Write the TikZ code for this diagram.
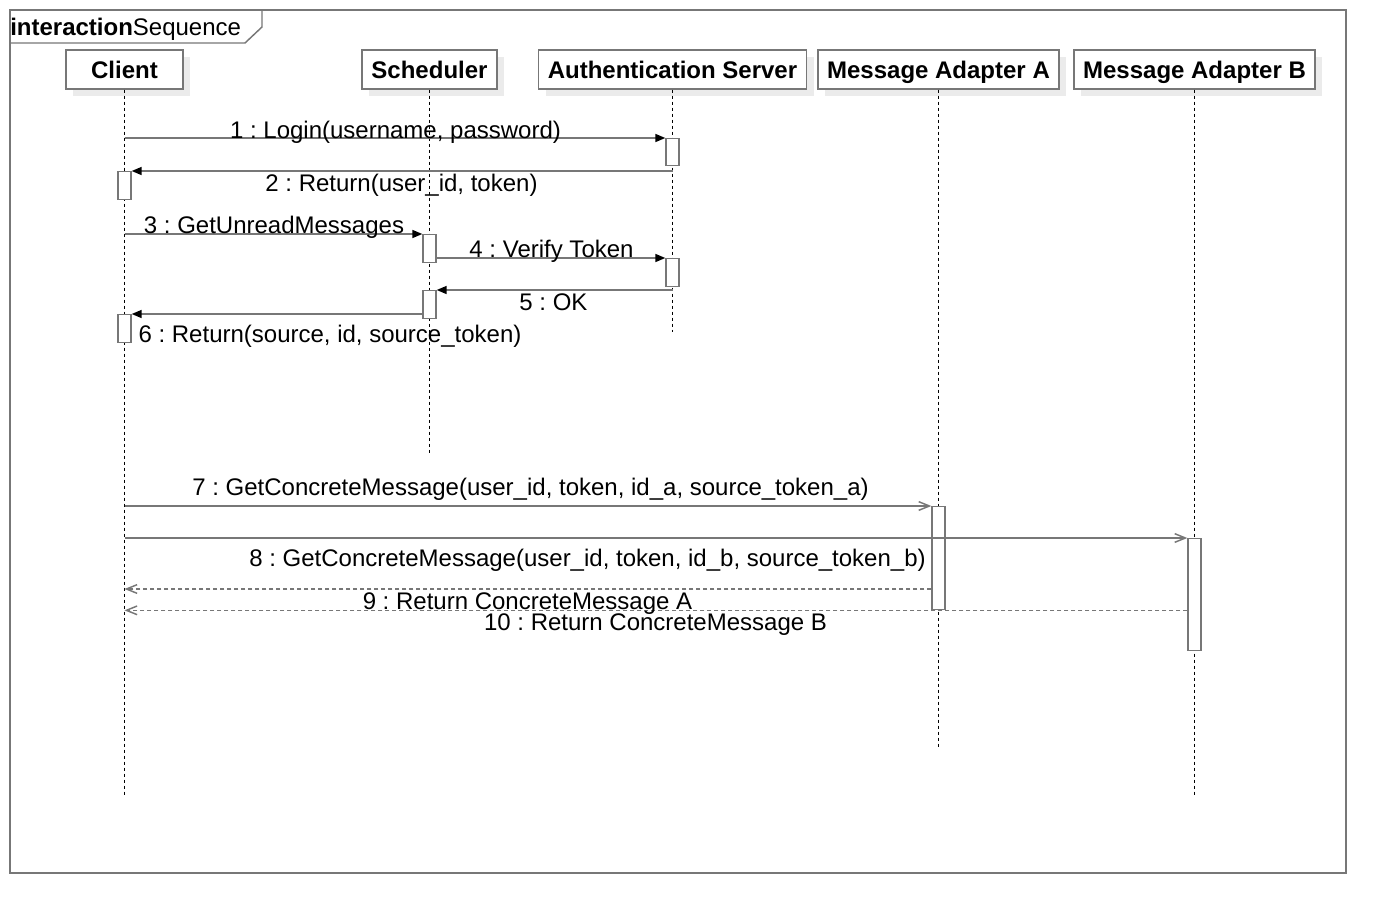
\documentclass[tikz,border=0pt]{standalone}
\usepackage{fontspec}
\setmainfont{Liberation Sans}
\usetikzlibrary{arrows.meta,shadows}
\definecolor{lg}{HTML}{777777}
\frenchspacing
\begin{document}
\begin{tikzpicture}[x=0.75pt,y=-0.75pt,
  every node/.style={font=\fontsize{18}{21}\selectfont},
  head/.style={draw=lg, line width=1pt, fill=white, minimum height=39*0.75pt, inner sep=0pt,
    text height=16pt, text depth=3.2pt,
    font=\fontsize{18}{21}\selectfont\bfseries,
    drop shadow={shadow xshift=5.25pt, shadow yshift=-5.25pt, fill=black!8, opacity=1}},
  life/.style={black, line width=0.7pt, dash pattern=on 2.25pt off 2.25pt},
  act/.style={draw=lg, line width=1pt, fill=white, minimum width=13*0.75pt, inner sep=0pt, anchor=north},
  sync/.style={draw=lg, line width=1.1pt, -{Triangle[length=7.5pt,width=6pt,color=black]}},
  async/.style={draw=lg, line width=1.1pt, -{Straight Barb[length=8pt,width=6.5pt]}},
  reply/.style={draw=lg, line width=1.1pt, dash pattern=on 3pt off 2.25pt, -{Straight Barb[length=8pt,width=6.5pt]}},
  lbl/.style={anchor=base, inner sep=0pt}
]
\useasboundingbox (0,0) rectangle (1386,914);
% frame
\draw[lg, line width=1.1pt] (10,10) rectangle (1346,873);
\draw[lg, line width=1.1pt] (10,43) -- (245,43) -- (262,27) -- (262,10);
\node[anchor=base west, inner sep=0pt] (title) at (10,35) {\textbf{interaction}Sequence};

% heads
\node[head, minimum width=117*0.75pt] (client) at (124.5,69.5) {Client};
\node[head, minimum width=135*0.75pt] (sched) at (429.5,69.5) {Scheduler};
\node[head, minimum width=268*0.75pt] (auth) at (672.5,69.5) {Authentication Server};
\node[head, minimum width=241*0.75pt] (maa) at (938.5,69.5) {Message Adapter A};
\node[head, minimum width=241*0.75pt] (mab) at (1194.5,69.5) {Message Adapter B};

% lifeline ends
\coordinate (clientEnd) at (124.5,795);
\coordinate (schedEnd) at (429.5,453);
\coordinate (authEnd) at (672.5,332);
\coordinate (maaEnd) at (938.5,747);
\coordinate (mabEnd) at (1194.5,795);
\draw[life] (client.south) -- (clientEnd);
\draw[life] (sched.south) -- (schedEnd);
\draw[life] (auth.south) -- (authEnd);
\draw[life] (maa.south) -- (maaEnd);
\draw[life] (mab.south) -- (mabEnd);

% activations
\node[act, minimum height=27*0.75pt] (a1) at (672.5,138) {};
\node[act, minimum height=28*0.75pt] (a2) at (124.5,171) {};
\node[act, minimum height=28*0.75pt] (a3) at (429.5,234) {};
\node[act, minimum height=28*0.75pt] (a4) at (672.5,258) {};
\node[act, minimum height=28*0.75pt] (a5) at (429.5,290) {};
\node[act, minimum height=28*0.75pt] (a6) at (124.5,314) {};
\node[act, minimum height=103*0.75pt] (a7) at (938.5,506) {};
\node[act, minimum height=112*0.75pt] (a8) at (1194.5,538) {};

% messages
\coordinate (r9) at (0,589);
\draw[sync] (client.south |- a1.north) -- (a1.north west);
\draw[sync] (auth.south |- a2.north) -- (a2.north east);
\draw[sync] (client.south |- a3.north) -- (a3.north west);
\draw[sync] (a3.east |- a4.north) -- (a4.north west);
\draw[sync] (auth.south |- a5.north) -- (a5.north east);
\draw[sync] (a5.west |- a6.north) -- (a6.north east);
\draw[async] (client.south |- a7.north) -- (a7.north west);
\draw[async] (client.south |- a8.north) -- (a8.north west);
\draw[reply] (a7.west |- r9) -- (client.south |- r9);
\draw[reply] (a8.west |- a7.south) -- (client.south |- a7.south);

% labels
\node[lbl] (l1) at (395.5,138) {1 : Login(username, password)};
\node[lbl] (l2) at (401.5,191) {2 : Return(user\_id, token)};
\node[lbl] (l3) at (274,233) {3 : GetUnreadMessages};
\node[lbl] (l4) at (551.5,257) {4 : Verify Token};
\node[lbl] (l5) at (553.5,310) {5 : OK};
\node[lbl] (l6) at (330,342) {6 : Return(source, id, source\_token)};
\node[lbl] (l7) at (530.5,495) {7 : GetConcreteMessage(user\_id, token, id\_a, source\_token\_a)};
\node[lbl] (l8) at (587.5,566) {8 : GetConcreteMessage(user\_id, token, id\_b, source\_token\_b)};
\node[lbl] (l9) at (527.5,609) {9 : Return ConcreteMessage A};
\node[lbl] (l10) at (655.5,630) {10 : Return ConcreteMessage B};
\end{tikzpicture}
\end{document}
